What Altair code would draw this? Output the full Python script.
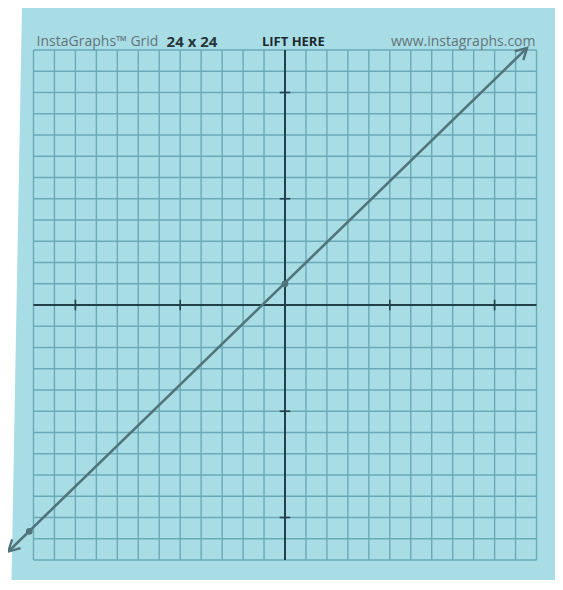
import altair as alt
import pandas as pd

# ---- data (graph-paper units) ----
grid_values = list(range(-12, 13))            # 24 x 24 grid lines
tick_values = [-10, -5, 5, 10]                # axis tick marks
line_x = [-13.2, 11.55]                       # drawn line ends (arrow tips)
line_y = [-11.6, 12.1]
dot_x = [0, -12.2]
dot_y = [1, -10.65]
arrow_x = [11.55, -13.2]
arrow_y = [12.1, -11.6]
arrow_angle = [46, 226]
paper_y = [13.98, -13.04]
paper_left = [-12.55, -13.05]
paper_right = [13.2, 13.2]
header_text = ["InstaGraphs\u2122 Grid", "24 x 24", "LIFT HERE", "www.instagraphs.com"]
header_x = [-11.85, -5.65, -1.1, 11.95]
header_y = [12.4, 12.4, 12.4, 12.4]

# ---- scales ----
W, H = 547, 572
UX = 20.96
UY = 21.25
x_dom = [-277 / UX, (W - 277) / UX]
y_dom = [(297 - H) / UY, 297 / UY]
xs = alt.Scale(domain=x_dom, nice=False, zero=False)
ys = alt.Scale(domain=y_dom, nice=False, zero=False)

PAPER = "#a9dde6"
GRID = "#6aa9b6"
AXIS = "#22404a"
PEN = "#50747a"

paper_df = pd.DataFrame({"y": paper_y, "l": paper_left, "r": paper_right})
paper = alt.Chart(paper_df).mark_area(color=PAPER, orient="horizontal").encode(
    y=alt.Y("y:Q", scale=ys, axis=None),
    x=alt.X("l:Q", scale=xs, axis=None),
    x2="r:Q",
)

vdf = pd.DataFrame({"x": grid_values, "y0": -12, "y1": 12})
hdf = pd.DataFrame({"y": grid_values, "x0": -12, "x1": 12})
vgrid = alt.Chart(vdf).mark_rule(color=GRID, strokeWidth=1.4).encode(
    x=alt.X("x:Q", scale=xs, axis=None),
    y=alt.Y("y0:Q", scale=ys, axis=None),
    y2="y1:Q",
)
hgrid = alt.Chart(hdf).mark_rule(color=GRID, strokeWidth=1.4).encode(
    y=alt.Y("y:Q", scale=ys, axis=None),
    x=alt.X("x0:Q", scale=xs, axis=None),
    x2="x1:Q",
)

xaxis = alt.Chart(pd.DataFrame({"y": [0], "x0": [-12], "x1": [12]})).mark_rule(
    color=AXIS, strokeWidth=2
).encode(y=alt.Y("y:Q", scale=ys, axis=None), x=alt.X("x0:Q", scale=xs, axis=None), x2="x1:Q")
yaxis = alt.Chart(pd.DataFrame({"x": [0], "y0": [-12], "y1": [12]})).mark_rule(
    color=AXIS, strokeWidth=2
).encode(x=alt.X("x:Q", scale=xs, axis=None), y=alt.Y("y0:Q", scale=ys, axis=None), y2="y1:Q")

xt = alt.Chart(pd.DataFrame({"x": tick_values, "y0": -0.25, "y1": 0.25})).mark_rule(
    color=AXIS, strokeWidth=1.6
).encode(x=alt.X("x:Q", scale=xs, axis=None), y=alt.Y("y0:Q", scale=ys, axis=None), y2="y1:Q")
yt = alt.Chart(pd.DataFrame({"y": tick_values, "x0": -0.25, "x1": 0.25})).mark_rule(
    color=AXIS, strokeWidth=1.6
).encode(y=alt.Y("y:Q", scale=ys, axis=None), x=alt.X("x0:Q", scale=xs, axis=None), x2="x1:Q")

pen_line = alt.Chart(pd.DataFrame({"x": line_x, "y": line_y})).mark_line(
    color=PEN, strokeWidth=2.6
).encode(x=alt.X("x:Q", scale=xs, axis=None), y=alt.Y("y:Q", scale=ys, axis=None))

dots = alt.Chart(pd.DataFrame({"x": dot_x, "y": dot_y})).mark_point(
    color=PEN, filled=True, size=45, opacity=1
).encode(x=alt.X("x:Q", scale=xs, axis=None), y=alt.Y("y:Q", scale=ys, axis=None))

arrows = alt.Chart(pd.DataFrame({"x": arrow_x, "y": arrow_y, "a": arrow_angle})).mark_point(
    shape="M -0.55 1 L 0 0 L 0.55 1", filled=False, color=PEN, strokeWidth=2.4,
    size=500, opacity=1
).encode(
    x=alt.X("x:Q", scale=xs, axis=None),
    y=alt.Y("y:Q", scale=ys, axis=None),
    angle=alt.Angle("a:Q", scale=None),
)

hdr = pd.DataFrame({"t": header_text, "x": header_x, "y": header_y})

def header(i, size, **kw):
    return alt.Chart(hdr.iloc[[i]]).mark_text(font="Open Sans", fontSize=size, baseline="middle", **kw).encode(
        x=alt.X("x:Q", scale=xs, axis=None), y=alt.Y("y:Q", scale=ys, axis=None), text="t:N"
    )

t0 = header(0, 14, align="left", color="#627479")
t1 = header(1, 15, align="left", color="#26363a", fontWeight="bold")
t2 = header(2, 13, align="left", color="#1c2a2e", fontWeight="bold")
t3 = header(3, 14, align="right", color="#627479")

chart = alt.layer(
    paper, vgrid, hgrid, xaxis, yaxis, xt, yt, pen_line, dots, arrows, t0, t1, t2, t3
).properties(
    width=W, height=H, autosize=alt.AutoSizeParams(type="none"), padding=0, background="white"
).configure_view(stroke=None)

chart.save("out.html", embed_options={"renderer": "svg", "actions": False})
